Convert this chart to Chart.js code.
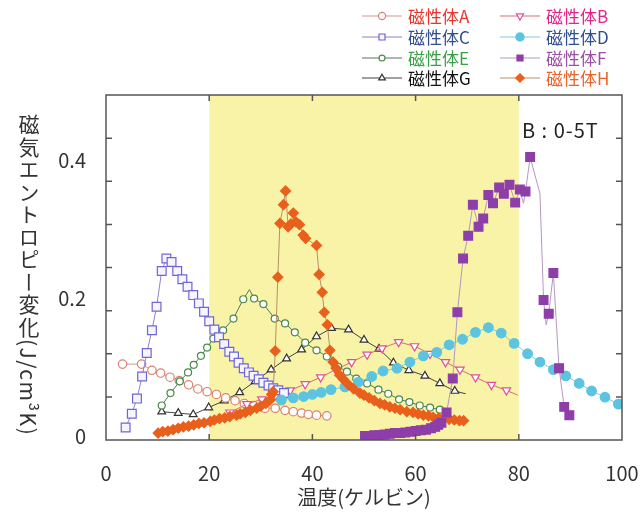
<!DOCTYPE html>
<html>
<head>
<meta charset="utf-8">
<script src="https://cdn.jsdelivr.net/npm/chart.js@4"></script>
<style>
  html, body { margin: 0; padding: 0; background: #fff; }
  #wrap { position: relative; width: 640px; height: 514px; }
  #yTitle {
    position: absolute; left: 14px; top: 114px;
    writing-mode: vertical-rl;
    font-family: "Noto Sans CJK JP", sans-serif;
    font-size: 21px; color: #333; letter-spacing: 1.5px;
  }
</style>
</head>
<body>
<div id="wrap">
  <canvas id="myChart" width="640" height="514"></canvas>
  <div id="yTitle">磁気エントロピー変化(J/cm³K)</div>
</div>
<script>
const FONT = '"Noto Sans CJK JP", "Noto Sans", sans-serif';

// axis settings
const xTickLabels = [0, 20, 40, 60, 80, 100];
const xMinorTicks = [20, 40, 60, 80];
const yLabelTicks = [0, 0.2, 0.4];
const yMinorTicks = [0.0625, 0.125, 0.1875, 0.25, 0.3125, 0.375, 0.4375];
const fieldRange = [20, 80];   // yellow band (K)

// 磁性体A
const tempA = [3.2, 6.9, 8.9, 10.6, 12.4, 14.2, 16.0, 17.8, 19.6, 21.4, 23.2, 25.0, 26.8, 28.6, 30.8, 32.8, 34.7, 36.3, 37.9, 39.2, 39.7, 40.8, 42.8];
const valA  = [0.110, 0.110, 0.101, 0.097, 0.091, 0.086, 0.080, 0.074, 0.070, 0.066, 0.061, 0.057, 0.053, 0.050, 0.046, 0.046, 0.043, 0.041, 0.039, 0.037, 0.032, 0.036, 0.035];
const lineOnlyA = [39.7];

// 磁性体B
const tempB = [24.0, 27.3, 30.2, 32.9, 35.7, 38.6, 41.6, 44.5, 47.6, 50.6, 53.5, 56.7, 59.8, 62.8, 65.8, 68.6, 71.6, 74.7, 77.6, 79.8];
const valB  = [0.040, 0.052, 0.059, 0.065, 0.072, 0.081, 0.091, 0.102, 0.113, 0.124, 0.133, 0.142, 0.136, 0.125, 0.113, 0.102, 0.091, 0.080, 0.072, 0.065];
const lineOnlyB = [79.8];

// 磁性体C
const tempC = [3.8, 5.0, 6.0, 7.0, 7.9, 8.9, 9.8, 10.8, 11.7, 12.7, 13.8, 14.8, 15.8, 16.9, 18.0, 19.0, 20.0, 21.0, 21.9, 22.9, 23.9, 24.8, 25.7, 26.7, 27.7, 28.6, 29.6, 30.5, 31.5, 32.4, 33.4, 34.5];
const valC  = [0.018, 0.038, 0.060, 0.092, 0.126, 0.159, 0.193, 0.245, 0.263, 0.258, 0.245, 0.233, 0.222, 0.210, 0.198, 0.186, 0.172, 0.160, 0.149, 0.139, 0.128, 0.121, 0.112, 0.104, 0.098, 0.093, 0.088, 0.083, 0.079, 0.075, 0.072, 0.068];

// 磁性体D
const tempD = [34.0, 36.3, 38.3, 40.0, 41.7, 43.6, 46.3, 48.9, 51.5, 53.7, 56.4, 58.9, 61.5, 64.1, 66.5, 69.1, 71.6, 74.1, 76.6, 79.1, 81.7, 84.1, 86.7, 89.1, 91.7, 94.1, 96.7, 99.3];
const valD  = [0.058, 0.061, 0.063, 0.066, 0.069, 0.073, 0.077, 0.084, 0.092, 0.100, 0.104, 0.113, 0.122, 0.127, 0.138, 0.146, 0.156, 0.163, 0.155, 0.140, 0.125, 0.113, 0.102, 0.093, 0.082, 0.071, 0.062, 0.052];

// 磁性体E
const tempE = [10.8, 12.5, 14.3, 15.9, 17.0, 18.4, 19.6, 20.8, 22.7, 24.7, 26.6, 27.8, 28.7, 30.5, 32.7, 34.7, 36.6, 38.6, 40.8, 42.8, 45.0, 46.7, 48.5, 50.6, 52.8, 54.7, 56.8, 58.8, 60.8, 62.8, 64.7];
const valE  = [0.050, 0.068, 0.085, 0.098, 0.109, 0.122, 0.134, 0.147, 0.159, 0.176, 0.204, 0.218, 0.205, 0.197, 0.176, 0.169, 0.156, 0.141, 0.130, 0.121, 0.106, 0.099, 0.089, 0.082, 0.073, 0.067, 0.059, 0.055, 0.050, 0.047, 0.044];
const lineOnlyE = [27.8];

// 磁性体F
const tempF = [50.2, 51.0, 52.0, 53.0, 54.0, 55.0, 56.0, 57.0, 58.0, 59.0, 60.0, 61.0, 62.0, 63.0, 63.8, 64.4, 65.0, 66.0, 67.2, 68.1, 69.2, 70.2, 71.1, 72.2, 73.1, 74.1, 75.0, 76.2, 77.1, 78.2, 79.3, 80.2, 80.9, 81.3, 82.2, 84.1, 84.8, 85.3, 85.8, 86.7, 87.8, 88.8, 89.8];
const valF  = [0.006, 0.006, 0.007, 0.007, 0.008, 0.009, 0.010, 0.010, 0.011, 0.012, 0.013, 0.014, 0.015, 0.017, 0.019, 0.022, 0.025, 0.040, 0.089, 0.185, 0.263, 0.296, 0.341, 0.309, 0.321, 0.355, 0.343, 0.366, 0.357, 0.370, 0.344, 0.363, 0.343, 0.360, 0.410, 0.357, 0.203, 0.167, 0.183, 0.242, 0.104, 0.048, 0.036];
const lineOnlyF = [80.9, 84.1, 85.3];

// 磁性体G
const tempG = [10.8, 14.0, 16.9, 19.9, 22.9, 25.9, 28.9, 32.0, 35.0, 37.9, 40.8, 43.7, 47.0, 50.0, 52.9, 55.7, 58.7, 61.8, 64.7, 67.6, 69.7];
const valG  = [0.041, 0.039, 0.037, 0.047, 0.057, 0.069, 0.085, 0.102, 0.118, 0.131, 0.150, 0.162, 0.160, 0.145, 0.132, 0.112, 0.101, 0.093, 0.082, 0.071, 0.067];
const lineOnlyG = [69.7];

// 磁性体H
const tempH = [10.1, 11.0, 12.0, 13.0, 14.0, 15.0, 16.0, 17.0, 18.0, 19.0, 20.2, 21.0, 22.0, 23.0, 24.0, 25.3, 26.0, 27.0, 28.0, 29.2, 30.0, 31.0, 31.8, 32.1, 32.4, 32.8, 33.3, 33.7, 34.4, 34.8, 35.3, 35.8, 36.3, 36.8, 37.5, 38.2, 38.7, 40.8, 41.3, 41.9, 42.3, 42.9, 43.4, 44.0, 44.6, 45.3, 46.0, 47.0, 48.0, 49.2, 50.0, 51.0, 52.0, 53.1, 54.0, 55.0, 56.0, 57.0, 58.3, 59.5, 60.5, 61.5, 62.5, 63.4, 64.5, 65.5, 66.5, 67.5, 68.5, 69.3];
const valH  = [0.010, 0.012, 0.013, 0.015, 0.017, 0.019, 0.020, 0.022, 0.024, 0.025, 0.027, 0.029, 0.031, 0.032, 0.034, 0.036, 0.038, 0.040, 0.043, 0.046, 0.049, 0.053, 0.058, 0.066, 0.070, 0.129, 0.236, 0.314, 0.341, 0.361, 0.309, 0.313, 0.329, 0.316, 0.312, 0.297, 0.292, 0.282, 0.240, 0.214, 0.185, 0.167, 0.130, 0.113, 0.104, 0.094, 0.088, 0.080, 0.074, 0.068, 0.065, 0.061, 0.057, 0.053, 0.051, 0.048, 0.046, 0.044, 0.041, 0.040, 0.038, 0.036, 0.035, 0.033, 0.032, 0.031, 0.030, 0.029, 0.028, 0.028];

function toPoints(xs, ys) {
  return xs.map((x, i) => ({ x: x, y: ys[i] }));
}

// marker radius, 0 where the line only bends
function radiusFor(r, lineOnly) {
  return ctx => (lineOnly && ctx.raw && lineOnly.includes(ctx.raw.x)) ? 0 : r;
}

const series = [
  { label: '磁性体A', data: toPoints(tempA, valA), lineColor: '#c99a92', style: 'circle', radius: 4.2, fill: '#ffffff', border: '#d9826f', text: '#e8342a', order: 6, lineOnly: lineOnlyA },
  { label: '磁性体B', data: toPoints(tempB, valB), lineColor: '#d0707a', style: 'triangle', rotation: 180, radius: 4.8, fill: '#ffffff', border: '#e0509a', text: '#e5248a', order: 5, lineOnly: lineOnlyB },
  { label: '磁性体C', data: toPoints(tempC, valC), lineColor: '#8c84c8', style: 'rect', radius: 6.2, fill: '#f6f4ff', border: '#6f66d4', text: '#2f4f8f', order: 3 },
  { label: '磁性体D', data: toPoints(tempD, valD), lineColor: '#78cde0', style: 'circle', radius: 4.8, fill: '#5cc4e0', border: '#5cc4e0', text: '#2f4f8f', order: 2 },
  { label: '磁性体E', data: toPoints(tempE, valE), lineColor: '#5a7560', style: 'circle', radius: 3.5, fill: '#ffffff', border: '#4a8a4a', text: '#3aa047', order: 4, lineOnly: lineOnlyE },
  { label: '磁性体F', data: toPoints(tempF, valF), lineColor: '#b597c0', style: 'rect', radius: 6.2, fill: '#8e3ea8', border: '#8e3ea8', text: '#9b4fa8', order: 0, lineOnly: lineOnlyF },
  { label: '磁性体G', data: toPoints(tempG, valG), lineColor: '#444444', style: 'triangle', radius: 4.5, fill: '#ffffff', border: '#333333', text: '#111111', order: 7, lineOnly: lineOnlyG },
  { label: '磁性体H', data: toPoints(tempH, valH), lineColor: '#b8906a', style: 'rectRot', radius: 5, fill: '#e8601c', border: '#e8601c', text: '#e8642a', order: 1 }
];

const datasets = series.map(s => ({
  label: s.label,
  data: s.data,
  showLine: true,
  borderColor: s.lineColor,
  borderWidth: 1,
  pointStyle: s.style,
  pointRotation: s.rotation || 0,
  pointRadius: radiusFor(s.radius, s.lineOnly),
  pointBackgroundColor: s.fill,
  pointBorderColor: s.border,
  pointBorderWidth: 1.2,
  order: s.order
}));

// yellow field band behind the data
const bandPlugin = {
  id: 'band',
  beforeDatasetsDraw(chart) {
    const { ctx, chartArea, scales } = chart;
    const x0 = scales.x.getPixelForValue(fieldRange[0]);
    const x1 = scales.x.getPixelForValue(fieldRange[1]);
    ctx.save();
    ctx.fillStyle = '#f8f3a6';
    ctx.fillRect(x0, chartArea.top, x1 - x0, chartArea.bottom - chartArea.top);
    ctx.restore();
  }
};

// frame with inward ticks on all sides
const framePlugin = {
  id: 'frame',
  afterDatasetsDraw(chart) {
    const { ctx, chartArea, scales } = chart;
    const { left, right, top, bottom } = chartArea;
    const len = 6;
    ctx.save();
    ctx.strokeStyle = '#555';
    ctx.lineWidth = 1.5;
    ctx.strokeRect(left, top, right - left, bottom - top);
    ctx.beginPath();
    xMinorTicks.forEach(v => {
      const px = scales.x.getPixelForValue(v);
      ctx.moveTo(px, bottom); ctx.lineTo(px, bottom - len);
      ctx.moveTo(px, top); ctx.lineTo(px, top + len);
    });
    yMinorTicks.forEach(v => {
      const py = scales.y.getPixelForValue(v);
      ctx.moveTo(left, py); ctx.lineTo(left + len, py);
      ctx.moveTo(right, py); ctx.lineTo(right - len, py);
    });
    ctx.stroke();

    ctx.fillStyle = '#222';
    ctx.font = '20px ' + FONT;
    ctx.letterSpacing = '1px';
    ctx.textAlign = 'left';
    ctx.textBaseline = 'middle';
    ctx.fillText('B : 0-5T', right - 100, top + 35);
    ctx.restore();
  }
};

// two-column legend above the plot
const legendPlugin = {
  id: 'legend2col',
  afterDraw(chart) {
    const { ctx } = chart;
    const cols = [362, 500];
    const rows = [16, 37, 58, 78];
    ctx.save();
    ctx.font = '17px ' + FONT;
    ctx.textBaseline = 'middle';
    ctx.textAlign = 'left';
    series.forEach((s, i) => {
      const x = cols[i % 2];
      const y = rows[Math.floor(i / 2)];
      ctx.strokeStyle = s.lineColor;
      ctx.lineWidth = 1.2;
      ctx.beginPath();
      ctx.moveTo(x, y); ctx.lineTo(x + 40, y);
      ctx.stroke();
      ctx.fillStyle = s.fill;
      ctx.strokeStyle = s.border;
      ctx.lineWidth = 1.2;
      Chart.helpers.drawPoint(ctx, {
        pointStyle: s.style, radius: Math.min(s.radius, 5) * 0.85, rotation: s.rotation || 0, borderWidth: 1.2
      }, x + 20, y);
      ctx.fillStyle = s.text;
      ctx.fillText(s.label, x + 46, y + 1);
    });
    ctx.restore();
  }
};

const ctx = document.getElementById('myChart').getContext('2d');
const myChart = new Chart(ctx, {
  type: 'scatter',
  data: { datasets: datasets },
  options: {
    responsive: false,
    animation: false,
    layout: { padding: { top: 95, right: 18, left: 0, bottom: 0 } },
    plugins: {
      legend: { display: false },
      tooltip: { enabled: false }
    },
    scales: {
      x: {
        type: 'linear',
        min: 0,
        max: 100,
        afterBuildTicks(scale) { scale.ticks = xTickLabels.map(v => ({ value: v })); },
        afterFit(scale) { scale.height = 74; scale.paddingLeft = 0; scale.paddingRight = 0; },
        grid: { display: false },
        border: { display: false },
        ticks: { padding: 13, color: '#333', font: { family: FONT, size: 20 } },
        title: {
          display: true,
          text: '温度(ケルビン)',
          color: '#333',
          font: { family: FONT, size: 20 },
          padding: { top: 4, bottom: 5 }
        }
      },
      y: {
        min: 0,
        max: 0.5,
        afterBuildTicks(scale) { scale.ticks = yLabelTicks.map(v => ({ value: v })); },
        afterFit(scale) { scale.width = 106; scale.paddingTop = 0; scale.paddingBottom = 0; },
        grid: { display: false },
        border: { display: false },
        ticks: {
          padding: 12,
          labelOffset: -4,
          color: '#333',
          font: { family: FONT, size: 20 },
          callback: v => (v === 0 ? '0' : v.toFixed(1))
        }
      }
    }
  },
  plugins: [bandPlugin, framePlugin, legendPlugin]
});
</script>
</body>
</html>
